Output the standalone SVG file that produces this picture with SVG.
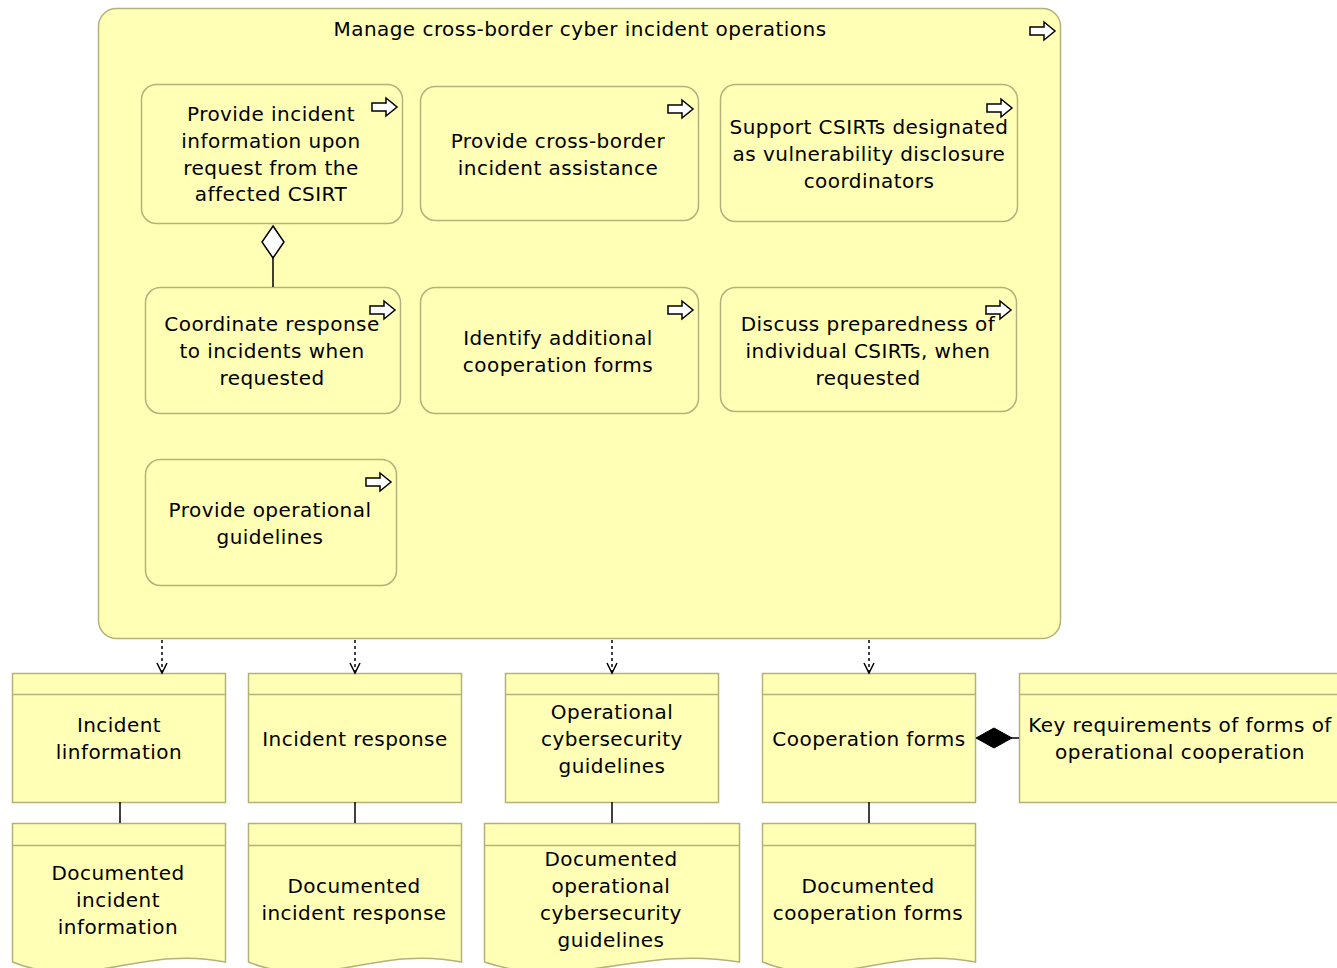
<svg xmlns="http://www.w3.org/2000/svg" width="1337" height="968" viewBox="0 0 1337 968">
<style>
.box{fill:#ffffb5;stroke:#b3b27a;stroke-width:1.5}
.hdr{fill:none;stroke:#b3b27a;stroke-width:1.5}
.t{font-family:"DejaVu Sans","Liberation Sans",sans-serif;font-size:20px;letter-spacing:0.45px;fill:#000;text-anchor:middle}
.ico{fill:#ffffff;stroke:#000;stroke-width:1.5;stroke-linejoin:miter}
.ln{stroke:#000;stroke-width:1.5;fill:none}
.dash{stroke:#000;stroke-width:1.5;fill:none;stroke-dasharray:3 3}
</style>
<defs>
<path id="parrow" d="M0,5 H14 V0 L25,9 L14,18 V13 H0 Z" class="ico"/>
<marker id="openarr" markerWidth="14" markerHeight="14" refX="11" refY="6.5" orient="auto" markerUnits="userSpaceOnUse">
<path d="M1,1.5 L11,6.5 L1,11.5" fill="none" stroke="#000" stroke-width="1.5"/>
</marker>
</defs>

<g id="container">
<rect class="box" x="98.5" y="8.5" width="962" height="630" rx="18"/>
<text class="t" x="580" y="36">Manage cross-border cyber incident operations</text>
<use href="#parrow" x="1030" y="22"/>
</g>

<g id="p1">
<rect class="box" x="141.5" y="84.5" width="261" height="139" rx="15"/>
<text class="t"><tspan x="271" y="121">Provide incident</tspan><tspan x="271" y="148">information upon</tspan><tspan x="271" y="175">request from the</tspan><tspan x="271" y="201">affected CSIRT</tspan></text>
<use href="#parrow" x="372" y="98"/>
</g>
<g id="p2">
<rect class="box" x="420.5" y="86.5" width="278" height="134" rx="15"/>
<text class="t"><tspan x="558" y="148">Provide cross-border</tspan><tspan x="558" y="175">incident assistance</tspan></text>
<use href="#parrow" x="668" y="100"/>
</g>
<g id="p3">
<rect class="box" x="720.5" y="84.5" width="297" height="137" rx="15"/>
<text class="t"><tspan x="869" y="134">Support CSIRTs designated</tspan><tspan x="869" y="161">as vulnerability disclosure</tspan><tspan x="869" y="188">coordinators</tspan></text>
<use href="#parrow" x="987" y="99"/>
</g>
<g id="p4">
<rect class="box" x="145.5" y="287.5" width="255" height="126" rx="15"/>
<text class="t"><tspan x="272" y="331">Coordinate response</tspan><tspan x="272" y="358">to incidents when</tspan><tspan x="272" y="385">requested</tspan></text>
<use href="#parrow" x="370" y="301"/>
</g>
<g id="p5">
<rect class="box" x="420.5" y="287.5" width="278" height="126" rx="15"/>
<text class="t"><tspan x="558" y="345">Identify additional</tspan><tspan x="558" y="372">cooperation forms</tspan></text>
<use href="#parrow" x="668" y="301"/>
</g>
<g id="p6">
<rect class="box" x="720.5" y="287.5" width="296" height="124" rx="15"/>
<text class="t"><tspan x="868" y="331">Discuss preparedness of</tspan><tspan x="868" y="358">individual CSIRTs, when</tspan><tspan x="868" y="385">requested</tspan></text>
<use href="#parrow" x="986" y="301"/>
</g>
<g id="p7">
<rect class="box" x="145.5" y="459.5" width="251" height="126" rx="15"/>
<text class="t"><tspan x="270" y="517">Provide operational</tspan><tspan x="270" y="544">guidelines</tspan></text>
<use href="#parrow" x="366" y="473"/>
</g>

<g id="o1">
<rect class="box" x="12.5" y="673.5" width="213" height="129"/>
<line class="hdr" x1="12.5" y1="694.5" x2="225.5" y2="694.5"/>
<text class="t"><tspan x="119" y="732">Incident</tspan><tspan x="119" y="759">linformation</tspan></text>
</g>
<g id="o2">
<rect class="box" x="248.5" y="673.5" width="213" height="129"/>
<line class="hdr" x1="248.5" y1="694.5" x2="461.5" y2="694.5"/>
<text class="t"><tspan x="355" y="746">Incident response</tspan></text>
</g>
<g id="o3">
<rect class="box" x="505.5" y="673.5" width="213" height="129"/>
<line class="hdr" x1="505.5" y1="694.5" x2="718.5" y2="694.5"/>
<text class="t"><tspan x="612" y="719">Operational</tspan><tspan x="612" y="746">cybersecurity</tspan><tspan x="612" y="773">guidelines</tspan></text>
</g>
<g id="o4">
<rect class="box" x="762.5" y="673.5" width="213" height="129"/>
<line class="hdr" x1="762.5" y1="694.5" x2="975.5" y2="694.5"/>
<text class="t"><tspan x="869" y="746">Cooperation forms</tspan></text>
</g>
<g id="o5">
<rect class="box" x="1019.5" y="673.5" width="330" height="129"/>
<line class="hdr" x1="1019.5" y1="694.5" x2="1349.5" y2="694.5"/>
<text class="t"><tspan x="1180" y="732">Key requirements of forms of</tspan><tspan x="1180" y="759">operational cooperation</tspan></text>
</g>

<g id="r1">
<path class="box" d="M12.5,823.5 H225.5 V962 C140,945 87,992 12.5,962 Z"/>
<line class="hdr" x1="12.5" y1="845.5" x2="225.5" y2="845.5"/>
<text class="t"><tspan x="118" y="880">Documented</tspan><tspan x="118" y="907">incident</tspan><tspan x="118" y="934">information</tspan></text>
</g>
<g id="r2">
<path class="box" d="M248.5,823.5 H461.5 V962 C376,945 323,992 248.5,962 Z"/>
<line class="hdr" x1="248.5" y1="845.5" x2="461.5" y2="845.5"/>
<text class="t"><tspan x="354" y="893">Documented</tspan><tspan x="354" y="920">incident response</tspan></text>
</g>
<g id="r3">
<path class="box" d="M484.5,823.5 H739.5 V962 C637,945 574,992 484.5,962 Z"/>
<line class="hdr" x1="484.5" y1="845.5" x2="739.5" y2="845.5"/>
<text class="t"><tspan x="611" y="866">Documented</tspan><tspan x="611" y="893">operational</tspan><tspan x="611" y="920">cybersecurity</tspan><tspan x="611" y="947">guidelines</tspan></text>
</g>
<g id="r4">
<path class="box" d="M762.5,823.5 H975.5 V962 C890,945 837,992 762.5,962 Z"/>
<line class="hdr" x1="762.5" y1="845.5" x2="975.5" y2="845.5"/>
<text class="t"><tspan x="868" y="893">Documented</tspan><tspan x="868" y="920">cooperation forms</tspan></text>
</g>

<g id="connectors">
<line class="ln" x1="273" y1="258" x2="273" y2="287"/>
<path d="M273,226 L284,242 L273,258 L262,242 Z" fill="#fff" stroke="#000" stroke-width="1.5"/>
<line class="dash" x1="162" y1="640" x2="162" y2="673" marker-end="url(#openarr)"/>
<line class="dash" x1="355" y1="640" x2="355" y2="673" marker-end="url(#openarr)"/>
<line class="dash" x1="612" y1="640" x2="612" y2="673" marker-end="url(#openarr)"/>
<line class="dash" x1="869" y1="640" x2="869" y2="673" marker-end="url(#openarr)"/>
<line class="ln" x1="1011" y1="738" x2="1019" y2="738"/>
<path d="M976,738 L994,728 L1012,738 L994,748 Z" fill="#000" stroke="#000" stroke-width="1"/>
<line class="ln" x1="120" y1="802" x2="120" y2="823"/>
<line class="ln" x1="355" y1="802" x2="355" y2="823"/>
<line class="ln" x1="612" y1="802" x2="612" y2="823"/>
<line class="ln" x1="869" y1="802" x2="869" y2="823"/>
</g>
</svg>
